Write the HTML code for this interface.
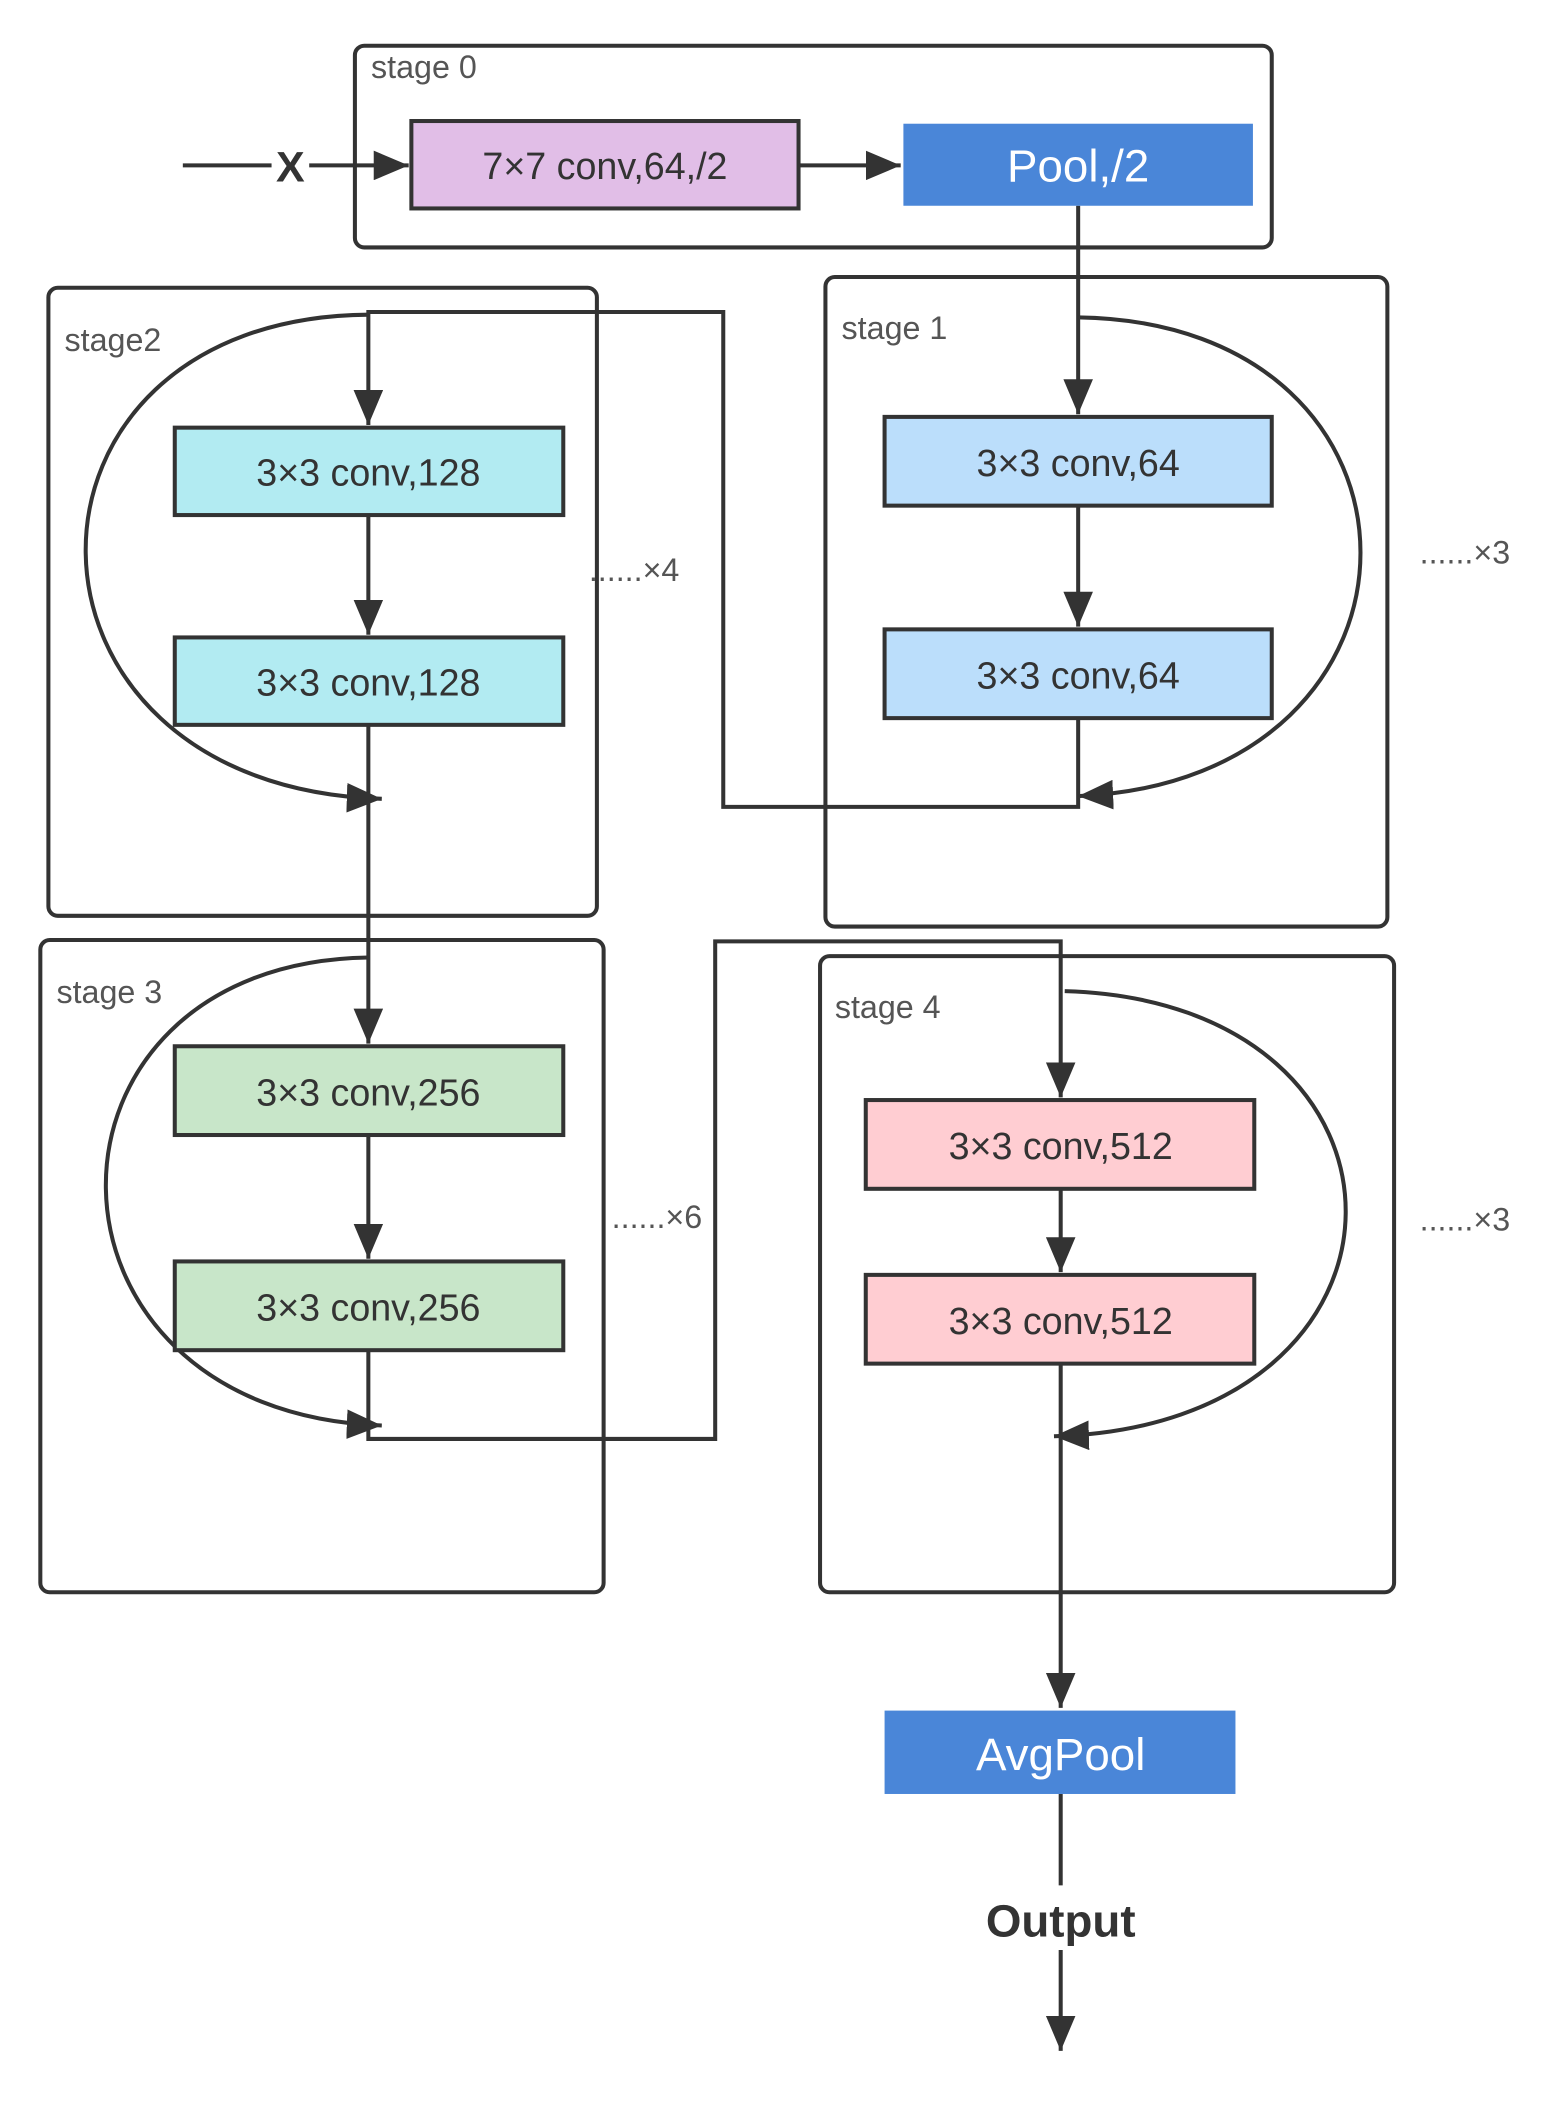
<!DOCTYPE html>
<html><head><meta charset="utf-8"><style>html,body{margin:0;padding:0;background:#fff}svg{display:block}</style></head>
<body>
<svg width="1546" height="2110" viewBox="-2 0 1150 1569" preserveAspectRatio="none" xmlns="http://www.w3.org/2000/svg" font-family="Liberation Sans, sans-serif">
<defs>
<marker id="b" markerWidth="26" markerHeight="22" refX="26" refY="11" orient="auto" markerUnits="userSpaceOnUse"><path d="M0,0 L26,11 L0,22 z" fill="#333"/></marker>
</defs>
<g fill="none" stroke="#333" stroke-width="3">
<rect x="262" y="34" width="682" height="150" rx="7"/>
<rect x="34" y="214" width="408" height="467" rx="7"/>
<rect x="612" y="206" width="418" height="483" rx="7"/>
<rect x="28" y="699" width="419" height="485" rx="7"/>
<rect x="608" y="711" width="427" height="473" rx="7"/>
</g>
<g fill="#555" font-size="24">
<text x="274" y="58">stage 0</text>
<text x="46" y="261">stage2</text>
<text x="624" y="252">stage 1</text>
<text x="40" y="746">stage 3</text>
<text x="619" y="757">stage 4</text>
<text x="436" y="432">......×4</text>
<text x="1054" y="419">......×3</text>
<text x="453" y="913">......×6</text>
<text x="1054" y="915">......×3</text>
</g>
<g fill="none" stroke="#333" stroke-width="3">
<line x1="134" y1="123" x2="200" y2="123"/>
<line x1="228" y1="123" x2="302" y2="123" marker-end="url(#b)"/>
<line x1="592" y1="123" x2="668" y2="123" marker-end="url(#b)"/>
<line x1="800" y1="153" x2="800" y2="308" marker-end="url(#b)"/>
<line x1="800" y1="376" x2="800" y2="466" marker-end="url(#b)"/>
<path d="M800,534 L800,600 L536,600 L536,232 L272,232 L272,316" marker-end="url(#b)"/>
<path d="M800,236 C1080,240 1080,580 800,592" marker-end="url(#b)"/>
<line x1="272" y1="383" x2="272" y2="472" marker-end="url(#b)"/>
<path d="M272,234 C-10,236 -10,585 282,594" marker-end="url(#b)"/>
<line x1="272" y1="539" x2="272" y2="776" marker-end="url(#b)"/>
<line x1="272" y1="844" x2="272" y2="936" marker-end="url(#b)"/>
<path d="M272,712 C10,716 10,1050 282,1060" marker-end="url(#b)"/>
<path d="M272,1004 L272,1070 L530,1070 L530,700 L787,700 L787,816" marker-end="url(#b)"/>
<line x1="787" y1="884" x2="787" y2="946" marker-end="url(#b)"/>
<path d="M790,737 C1070,745 1070,1060 782,1068" marker-end="url(#b)"/>
<line x1="787" y1="1014" x2="787" y2="1270" marker-end="url(#b)"/>
<line x1="787" y1="1334" x2="787" y2="1402"/>
<line x1="787" y1="1450" x2="787" y2="1525" marker-end="url(#b)"/>
</g>
<text x="214" y="135" font-size="32" font-weight="bold" fill="#333" text-anchor="middle">X</text>
<g stroke="#333" stroke-width="3">
<rect x="304" y="90" width="288" height="65" fill="#e1bee7"/>
<rect x="656" y="310" width="288" height="66" fill="#bbdefb"/>
<rect x="656" y="468" width="288" height="66" fill="#bbdefb"/>
<rect x="128" y="318" width="289" height="65" fill="#b2ebf2"/>
<rect x="128" y="474" width="289" height="65" fill="#b2ebf2"/>
<rect x="128" y="778" width="289" height="66" fill="#c8e6c9"/>
<rect x="128" y="938" width="289" height="66" fill="#c8e6c9"/>
<rect x="642" y="818" width="289" height="66" fill="#ffcdd2"/>
<rect x="642" y="948" width="289" height="66" fill="#ffcdd2"/>
</g>
<rect x="670" y="92" width="260" height="61" fill="#4a86d8"/>
<rect x="656" y="1272" width="261" height="62" fill="#4a86d8"/>
<g font-size="28" fill="#333" text-anchor="middle">
<text x="448" y="133">7×7 conv,64,/2</text>
<text x="800" y="354">3×3 conv,64</text>
<text x="800" y="512">3×3 conv,64</text>
<text x="272" y="361">3×3 conv,128</text>
<text x="272" y="517">3×3 conv,128</text>
<text x="272" y="822">3×3 conv,256</text>
<text x="272" y="982">3×3 conv,256</text>
<text x="787" y="862">3×3 conv,512</text>
<text x="787" y="992">3×3 conv,512</text>
</g>
<text x="800" y="135" font-size="34" fill="#fff" text-anchor="middle">Pool,/2</text>
<text x="787" y="1316" font-size="34" fill="#fff" text-anchor="middle">AvgPool</text>
<text x="787" y="1440" font-size="34" font-weight="bold" fill="#333" text-anchor="middle">Output</text>
</svg>
</body></html>
